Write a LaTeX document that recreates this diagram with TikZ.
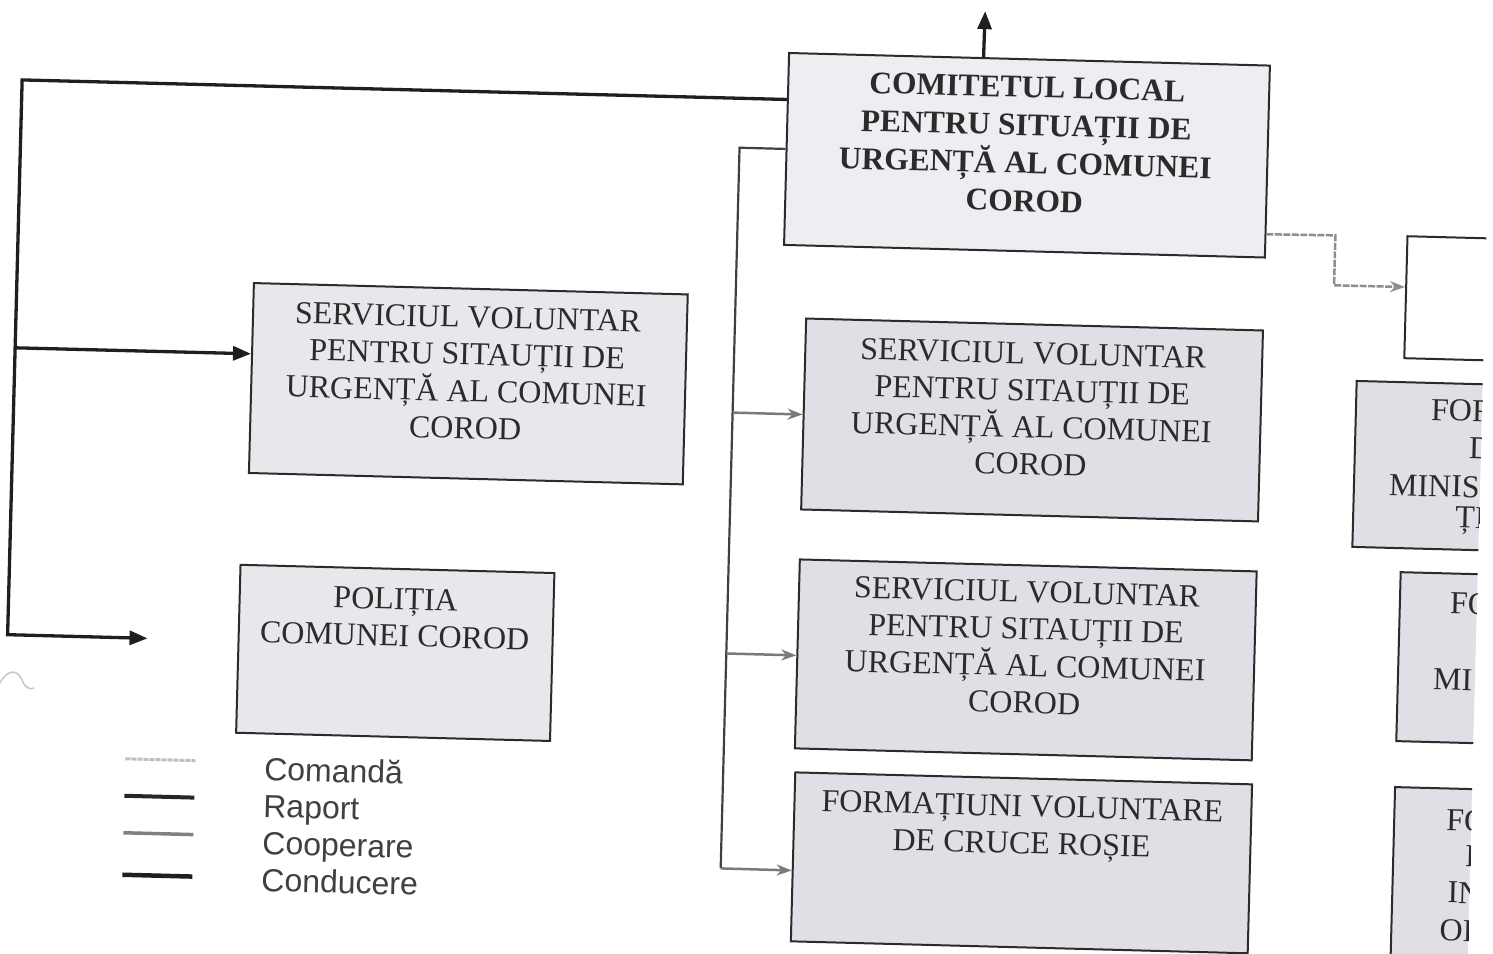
\documentclass[tikz,border=0pt]{standalone}
\usepackage{fontspec}
\setmainfont{Liberation Serif}
\newfontfamily\legfont{Liberation Sans}
\usetikzlibrary{arrows.meta,calc}
\definecolor{boxA}{HTML}{EEEEF2}
\definecolor{boxB}{HTML}{DFDFE5}
\definecolor{boxC}{HTML}{E7E7EC}
\definecolor{ink}{HTML}{2B2B2B}
\definecolor{busgray}{HTML}{7A7A7A}
\begin{document}
\begin{tikzpicture}[x=1pt,y=-1pt,
  box/.style={draw=ink, line width=2pt, inner sep=0pt},
  txt/.style={align=center, font=\fontsize{32}{37}\selectfont, text=ink, inner sep=0pt},
  btxt/.style={txt, font=\fontsize{31.5}{38}\selectfont\bfseries},
  frag/.style={anchor=west, font=\fontsize{32}{37}\selectfont, text=ink, inner sep=0pt},
  legtxt/.style={anchor=north west, align=left, font=\legfont\fontsize{32}{37}\selectfont, text=ink!90, inner sep=0pt},
  cond/.style={line width=3.3pt, draw=black!88, -{Triangle[length=18pt,width=14pt]}},
  bus/.style={line width=2.2pt, draw=ink!90},
  cmd/.style={line width=2.5pt, draw=busgray, -{Stealth[length=15pt,width=11pt]}},
  coop/.style={line width=2.5pt, draw=busgray!85, dash pattern=on 7pt off 1.5pt, -{Stealth[length=15pt,width=11pt]}},
]
\useasboundingbox (0,0) rectangle (1493,953);
\draw[gray!45, line width=1.5pt] (0,683) .. controls (8,668) and (18,670) .. (22,680) .. controls (25,688) and (30,690) .. (34,688);
\begin{scope}[rotate around={-1.5:(746,476)}, transform shape]
 \begin{scope}
  \clip (-100,-100) rectangle (1480,1100);
  % boxes
  \node[box, fill=boxA, minimum width=481pt, minimum height=192pt] (clsu) at (1018.5,148) {};
  \node[btxt] (clsut) at (1017,137) {COMITETUL LOCAL\\PENTRU SITUAȚII DE\\URGENȚĂ AL COMUNEI\\COROD};
  \node[box, fill=boxC, minimum width=434pt, minimum height=190pt] (sv1) at (466,391) {};
  \node[txt] (sv1t) at (464,380) {SERVICIUL VOLUNTAR\\PENTRU SITAUȚII DE\\URGENȚĂ AL COMUNEI\\COROD};
  \node[box, fill=boxC, minimum width=314pt, minimum height=168pt] (pol) at (400,662) {};
  \node[txt] (polt) at (399,626.5) {POLIȚIA\\COMUNEI COROD};
  \node[box, fill=boxB, minimum width=457pt, minimum height=191pt] (sv2) at (1030.5,412.5) {};
  \node[txt] (sv2t) at (1030,401.5) {SERVICIUL VOLUNTAR\\PENTRU SITAUȚII DE\\URGENȚĂ AL COMUNEI\\COROD};
  \node[box, fill=boxB, minimum width=457pt, minimum height=189pt] (sv3) at (1030.5,652.5) {};
  \node[txt] (sv3t) at (1030,640) {SERVICIUL VOLUNTAR\\PENTRU SITAUȚII DE\\URGENȚĂ AL COMUNEI\\COROD};
  \node[box, fill=boxB, minimum width=457pt, minimum height=169pt] (fcr) at (1031.5,855.5) {};
  \node[txt] (fcrt) at (1031,820.5) {FORMAȚIUNI VOLUNTARE\\DE CRUCE ROȘIE};
  % right boxes, cut by the page edge
  \node[box, fill=white, minimum width=300pt, minimum height=122pt] (r1) at (1551,280) {};
  \node[box, fill=boxB, minimum width=346pt, minimum height=166pt] (r2) at (1527,448) {};
  \node[frag] (r2a) at (1429,392) {FOR};
  \node[frag] (r2b) at (1468,429) {D};
  \node[frag] (r2c) at (1389,468) {MINIS};
  \node[frag] (r2d) at (1456,502) {ȚI};
  \node[box, fill=boxB, minimum width=300pt, minimum height=169pt] (r3) at (1553,639.5) {};
  \node[frag] (r3a) at (1453,585) {FO};
  \node[frag] (r3b) at (1438,661) {MI};
  \node[box, fill=boxB, minimum width=300pt, minimum height=205pt] (r4) at (1553,872.5) {};
  \node[frag] (r4a) at (1455,802) {FO};
  \node[frag] (r4b) at (1475,837) {D};
  \node[frag] (r4c) at (1458,874) {IN};
  \node[frag] (r4d) at (1451,912) {OI};
 \end{scope}
  % top arrow
  \coordinate (topend) at (973,5);
  \draw[cond] ($(clsu.north west)!0.405!(clsu.north east)$) -- (topend);
  % left bus
  \coordinate (ltop) at (12,99);
  \coordinate (lmid) at (12,367);
  \coordinate (lbot) at (12,654);
  \coordinate (lend) at (152,654);
  \draw[cond] ($(clsu.north west)!0.245!(clsu.south west)$) -- (ltop) -- (lbot) -- (lend);
  \draw[cond] (lmid) -- ($(sv1.north west)!0.374!(sv1.south west)$);
  % right bus
  \coordinate (rtop) at (731,148);
  \coordinate (rb2) at (731,413);
  \coordinate (rb3) at (731,654);
  \coordinate (rbot) at (731,869);
  \draw[bus] (clsu.west) -- (rtop) -- (rbot);
  \draw[cmd] (rb2) -- ($(sv2.north west)!0.503!(sv2.south west)$);
  \draw[cmd] (rb3) -- ($(sv3.north west)!0.508!(sv3.south west)$);
  \draw[cmd] (rbot) -- ($(fcr.north west)!0.58!(fcr.south west)$);
  % cooperation connector
  \coordinate (d1) at (1329,220);
  \coordinate (d2) at (1329,270);
  \draw[coop] ($(clsu.north east)!0.875!(clsu.south east)$) -- (d1) -- (d2) -- ($(r1.north west)!0.418!(r1.south west)$);
  % legend
  \coordinate (l1a) at (133,775); \coordinate (l1b) at (203,775);
  \coordinate (l2a) at (133,812); \coordinate (l2b) at (203,812);
  \coordinate (l3a) at (133,849); \coordinate (l3b) at (203,849);
  \coordinate (l4a) at (133,891); \coordinate (l4b) at (203,891);
  \draw[line width=3pt, draw=black!25, dash pattern=on 5pt off 1pt] (l1a) -- (l1b);
  \draw[line width=4pt, draw=black!85] (l2a) -- (l2b);
  \draw[line width=3.5pt, draw=black!50] (l3a) -- (l3b);
  \draw[line width=4.5pt, draw=black!88] (l4a) -- (l4b);
  \node[legtxt] (legend) at (272,769) {Comandă\\Raport\\Cooperare\\Conducere};
\end{scope}
\end{tikzpicture}
\end{document}
